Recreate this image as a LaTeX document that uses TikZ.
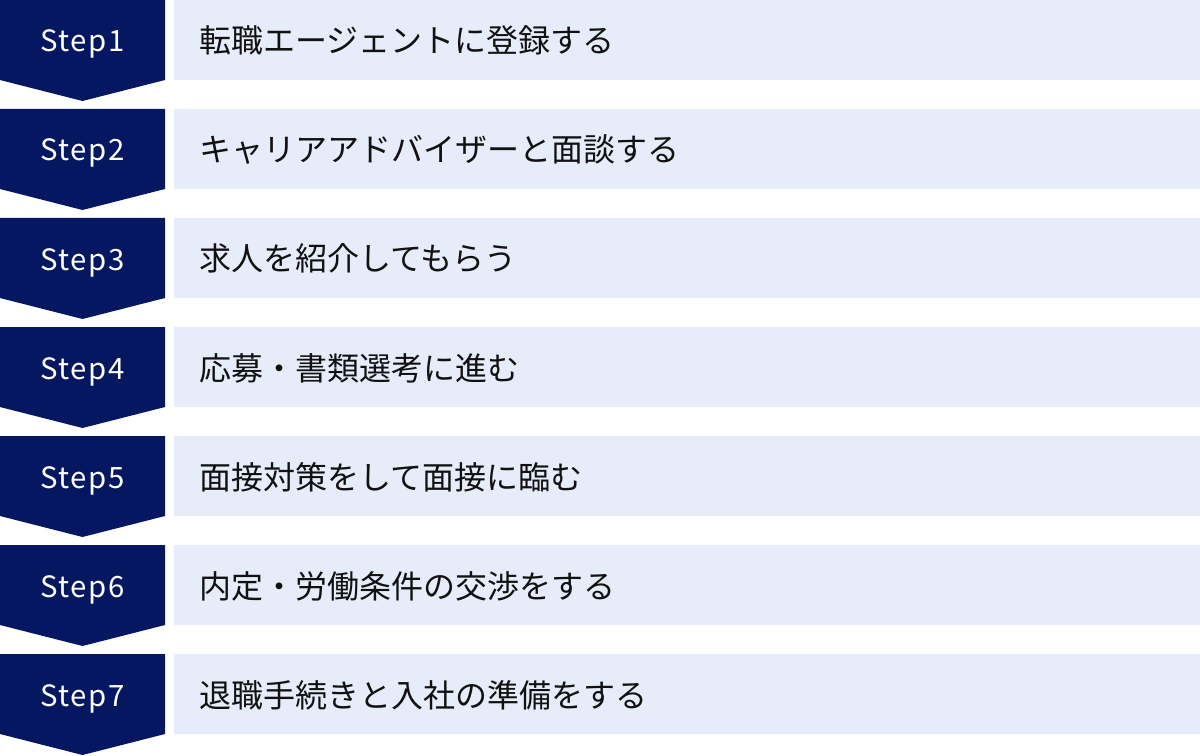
\documentclass[tikz,border=0pt]{standalone}
\usepackage{fontspec}
\setmainfont{Noto Sans CJK JP}
\newfontfamily\stepfont[LetterSpace=5]{Noto Sans CJK JP}
\newfontfamily\jpfont{Noto Sans CJK JP}
\definecolor{navy}{RGB}{4,23,96}
\definecolor{lightbar}{RGB}{230,236,249}
\definecolor{textdark}{RGB}{17,17,17}
\begin{document}
\begin{tikzpicture}[x=0.75pt,y=-0.75pt,
  steplabel/.style={text=white,font=\stepfont\fontsize{22pt}{24pt}\selectfont,anchor=base,inner sep=0pt},
  barlabel/.style={text=textdark,font=\jpfont\fontsize{24pt}{26pt}\selectfont,anchor=base west,inner sep=0pt}]
\useasboundingbox (0,0) rectangle (1200,756);
\fill[white] (0,0) rectangle (1200,756);
\foreach \i/\t in {1/転職エージェントに登録する,2/キャリアアドバイザーと面談する,3/求人を紹介してもらう,4/応募・書類選考に進む,5/面接対策をして面接に臨む,6/内定・労働条件の交渉をする,7/退職手続きと入社の準備をする}{
  \pgfmathsetmacro\yy{109*(\i-1)}
  \fill[navy] (0,\yy) -- (165,\yy) -- (165,\yy+80) -- (82.5,\yy+101) -- (0,\yy+80) -- cycle;
  \fill[lightbar] (174,\yy) rectangle (1200,\yy+80);
  \node[steplabel] (s\i) at (82.5,\yy+52) {Step\i};
  \node[barlabel] (b\i) at (199,\yy+53) {\t};
}
\end{tikzpicture}
\end{document}
